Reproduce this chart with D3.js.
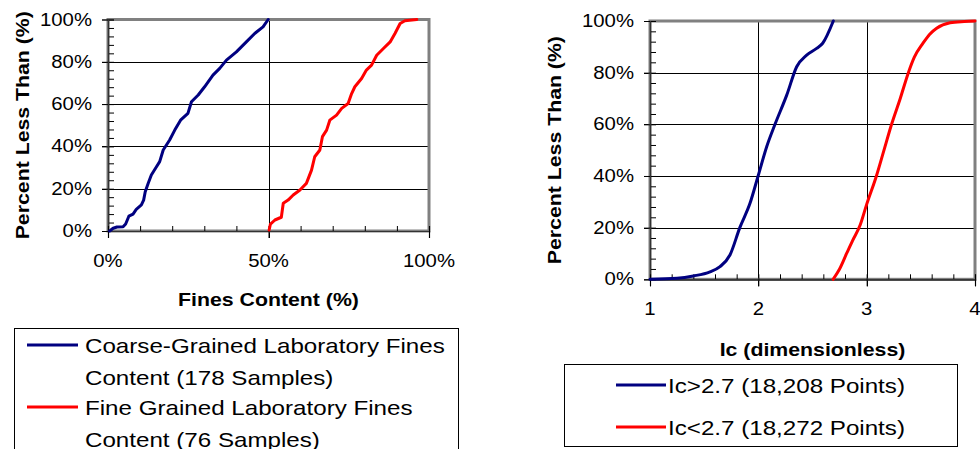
<!DOCTYPE html>
<html>
<head>
<meta charset="utf-8">
<script src="https://cdn.jsdelivr.net/npm/d3@7"></script>
<style>
  html, body { margin: 0; padding: 0; background: #fff; }
  svg { display: block; font-family: Arial, "Liberation Sans", sans-serif; }
</style>
</head>
<body>
<svg id="fig" width="980" height="449"></svg>
<script>
// Cumulative distribution of laboratory fines content (%, percent less than)
const coarseFines = [
  [0.5, 0], [1.6, 1.3], [2.8, 1.9], [4.7, 2], [5.5, 3.3], [6.5, 7], [7.8, 8],
  [8.8, 10.2], [10.4, 12.3], [11.1, 14.6], [11.6, 18.6], [12.5, 22.5], [13.5, 26.5],
  [15.1, 30.4], [16.1, 32.8], [17.2, 38.3], [19.2, 43], [20.8, 47.7], [22.6, 52.4],
  [24.9, 55.6], [26, 61.1], [28.1, 64.3], [30.1, 68.2], [32.7, 73.7], [34.8, 76.9],
  [36.9, 80.8], [40, 84.7], [43.1, 89.4], [45.7, 93.4], [48.3, 96.5], [49.9, 100]
];
const fineFines = [
  [50.2, 0.5], [50.6, 3.3], [52, 5.2], [54, 6.5], [54.6, 13.1], [56.1, 14.6],
  [57.7, 17], [59.8, 19.4], [61.8, 22.5], [63.4, 28.8], [64.4, 35.1], [66, 38.3],
  [66.8, 44.6], [68.1, 47.7], [69.1, 52.4], [71.2, 54.8], [72.8, 58], [74.8, 60.3],
  [75.9, 65], [76.9, 68.2], [79, 72.1], [80.5, 76.1], [82.1, 78.4], [83.7, 83.1],
  [85.8, 86.3], [87.9, 89.4], [89.4, 93.4], [91, 98.1], [92.5, 99.4], [96.2, 100]
];

// Cumulative distribution of soil behaviour type index Ic
const icAbove = [
  [1.0, 0], [1.25, 0.4], [1.4, 1.3], [1.554, 2.9], [1.646, 4.9], [1.738, 9.4],
  [1.83, 20.1], [1.923, 29.4], [2.0, 40.3], [2.077, 51.3], [2.154, 60], [2.262, 71.3],
  [2.354, 82.3], [2.446, 86.8], [2.538, 89.4], [2.594, 91.4], [2.692, 100]
];
const icBelow = [
  [2.69, 0], [2.75, 4], [2.815, 10], [2.87, 15], [2.94, 21], [3.0, 29], [3.09, 40],
  [3.16, 50], [3.23, 60], [3.31, 70], [3.385, 80], [3.44, 86], [3.52, 91.4],
  [3.58, 94.8], [3.646, 97.2], [3.77, 99.3], [3.9, 99.8], [4.0, 100]
];

const pctTicks = [0, 20, 40, 60, 80, 100];
const pctMinor = d3.range(0, 101, 4);
const fcTicks = [0, 50, 100];
const fcMinor = d3.range(0, 101, 10);
const icTicks = [1, 2, 3, 4];
const icMinor = d3.range(1, 4.001, 0.2);

const legendLeft = [
  { lines: ["Coarse-Grained Laboratory Fines", "Content (178 Samples)"], color: "#000080" },
  { lines: ["Fine Grained Laboratory Fines", "Content (76 Samples)"], color: "#ff0000" }
];
const legendRight = [
  { text: "Ic>2.7 (18,208 Points)", color: "#000080" },
  { text: "Ic<2.7 (18,272 Points)", color: "#ff0000" }
];

const svg = d3.select("#fig");

// Widen glyph advances a little, as in the original GDI-rendered Arial
function stretch(sel, k) {
  sel.each(function () {
    const w = this.getComputedTextLength();
    this.setAttribute("textLength", w * k);
    this.setAttribute("lengthAdjust", "spacingAndGlyphs");
  });
}

function panel(cfg) {
  const { x0, x1, y0, y1 } = cfg.box;
  const x = d3.scaleLinear().domain(cfg.xDomain).range([x0, x1]);
  const y = d3.scaleLinear().domain([0, 100]).range([y1, y0]);
  const g = svg.append("g");

  // horizontal gridlines (major y) extending out as outside ticks
  g.append("g").selectAll("line").data(pctTicks.slice(1, -1)).join("line")
    .attr("x1", x0 - 6).attr("x2", x1)
    .attr("y1", d => Math.round(y(d)) + 0.5).attr("y2", d => Math.round(y(d)) + 0.5)
    .attr("stroke", "#000").attr("stroke-width", 1);

  // vertical gridlines
  g.append("g").selectAll("line").data(cfg.xGrid).join("line")
    .attr("x1", d => Math.round(x(d)) + 0.5).attr("x2", d => Math.round(x(d)) + 0.5)
    .attr("y1", y0).attr("y2", y1 + 7)
    .attr("stroke", "#000").attr("stroke-width", 1);

  // plot-area frame
  g.append("rect")
    .attr("x", x0).attr("y", y0).attr("width", x1 - x0).attr("height", y1 - y0)
    .attr("fill", "none").attr("stroke", "#808080").attr("stroke-width", 3);

  // axes: minor ticks inside, major ticks outside
  const yMinor = d3.axisRight(y).tickValues(pctMinor).tickSize(6).tickFormat("");
  const yMajor = d3.axisLeft(y).tickValues(pctTicks).tickSize(6).tickFormat("");
  const xMinor = d3.axisTop(x).tickValues(cfg.xMinor).tickSize(5).tickFormat("");
  const xMajor = d3.axisBottom(x).tickValues(cfg.xTicks).tickSize(7).tickFormat("");
  [[yMinor, `translate(${x0},0)`], [yMajor, `translate(${x0},0)`],
   [xMinor, `translate(0,${y1})`], [xMajor, `translate(0,${y1})`]].forEach(([ax, tr]) => {
    const a = g.append("g").attr("transform", tr).call(ax);
    a.selectAll("path").attr("stroke", "#333").attr("stroke-width", 1.2);
    a.selectAll("line").attr("stroke", "#000").attr("stroke-width", 1);
  });

  // data curves
  const line = d3.line().x(d => x(d[0])).y(d => y(d[1])).curve(cfg.curve);
  cfg.series.forEach(s => {
    g.append("path").datum(s.data)
      .attr("d", line).attr("fill", "none")
      .attr("stroke", s.color).attr("stroke-width", 3)
      .attr("stroke-linejoin", "round").attr("stroke-linecap", "round");
  });

  // tick labels
  const yl = g.append("g").selectAll("text").data(pctTicks).join("text")
    .attr("x", x0 - 16).attr("y", d => y(d))
    .attr("text-anchor", "end").attr("dominant-baseline", "central")
    .attr("font-size", 18).attr("fill", "#000")
    .text(d => d + "%");
  stretch(yl, 1.13);
  const xl = g.append("g").selectAll("text").data(cfg.xTicks).join("text")
    .attr("x", d => x(d)).attr("y", y1 + 30)
    .attr("text-anchor", "middle").attr("dominant-baseline", "central")
    .attr("font-size", 18).attr("fill", "#000")
    .text(cfg.xFormat);
  stretch(xl, 1.13);

  // axis titles
  const xt = g.append("text")
    .attr("x", (x0 + x1) / 2).attr("y", cfg.xTitleY)
    .attr("text-anchor", "middle").attr("dominant-baseline", "central")
    .attr("font-size", 18.5).attr("font-weight", "bold")
    .text(cfg.xTitle);
  stretch(xt, 1.15);
  const yt = g.append("text")
    .attr("transform", `translate(${cfg.yTitleX},${(y0 + y1) / 2}) rotate(-90)`)
    .attr("text-anchor", "middle").attr("dominant-baseline", "central")
    .attr("font-size", 18.5).attr("font-weight", "bold")
    .text("Percent Less Than (%)");
  stretch(yt, 1.15);
}

panel({
  box: { x0: 108, x1: 429, y0: 19.5, y1: 231 },
  xDomain: [0, 100], xTicks: fcTicks, xMinor: fcMinor, xGrid: [50],
  xFormat: d => d + "%",
  xTitle: "Fines Content (%)", xTitleY: 299, yTitleX: 22,
  curve: d3.curveLinear,
  series: [{ data: coarseFines, color: "#000080" }, { data: fineFines, color: "#ff0000" }]
});

panel({
  box: { x0: 650, x1: 975, y0: 21, y1: 279.3 },
  xDomain: [1, 4], xTicks: icTicks, xMinor: icMinor, xGrid: [2, 3],
  xFormat: d => String(d),
  xTitle: "Ic (dimensionless)", xTitleY: 349, yTitleX: 554,
  curve: d3.curveMonotoneX,
  series: [{ data: icAbove, color: "#000080" }, { data: icBelow, color: "#ff0000" }]
});

// left legend (box runs past the bottom edge)
const lg = svg.append("g");
lg.append("rect").attr("x", 14.5).attr("y", 328.5).attr("width", 444).attr("height", 140)
  .attr("fill", "#fff").attr("stroke", "#000").attr("stroke-width", 1);
legendLeft.forEach((e, i) => {
  const cy = 345 + i * 62;
  lg.append("line").attr("x1", 27).attr("x2", 78).attr("y1", cy).attr("y2", cy)
    .attr("stroke", e.color).attr("stroke-width", 3);
  e.lines.forEach((t, j) => {
    const tx = lg.append("text").attr("x", 85).attr("y", cy + j * 32)
      .attr("dominant-baseline", "central").attr("font-size", 21).text(t);
    stretch(tx, 1.15);
  });
});

// right legend
const rg = svg.append("g");
rg.append("rect").attr("x", 564.5).attr("y", 364.5).attr("width", 393).attr("height", 82)
  .attr("fill", "#fff").attr("stroke", "#000").attr("stroke-width", 1);
legendRight.forEach((e, i) => {
  const cy = 385 + i * 42;
  rg.append("line").attr("x1", 616).attr("x2", 666).attr("y1", cy).attr("y2", cy)
    .attr("stroke", e.color).attr("stroke-width", 3);
  const tx = rg.append("text").attr("x", 668).attr("y", cy)
    .attr("dominant-baseline", "central").attr("font-size", 21).text(e.text);
  stretch(tx, 1.15);
});
</script>
</body>
</html>
